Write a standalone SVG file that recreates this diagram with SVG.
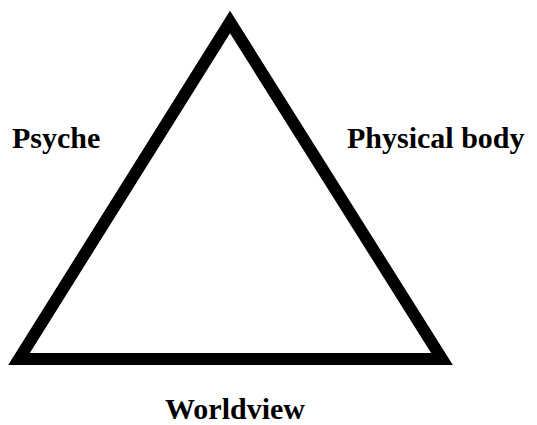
<svg xmlns="http://www.w3.org/2000/svg" width="537" height="425" viewBox="0 0 537 425">
<style>
.lbl{font-family:"Liberation Serif","Times New Roman",serif;font-weight:bold;font-size:30px;fill:#000}
.tri{fill:none;stroke:#000;stroke-width:12;stroke-linejoin:miter;stroke-miterlimit:10}
</style>
<rect width="537" height="425" fill="#fff"/>
<g id="connectors">
<polygon class="tri" points="230,22 442,359 19,359"/>
</g>
<g id="psyche"><text class="lbl" x="12" y="148">Psyche</text></g>
<g id="body"><text class="lbl" x="347" y="148">Physical body</text></g>
<g id="worldview"><text class="lbl" x="165" y="419">Worldview</text></g>
</svg>
